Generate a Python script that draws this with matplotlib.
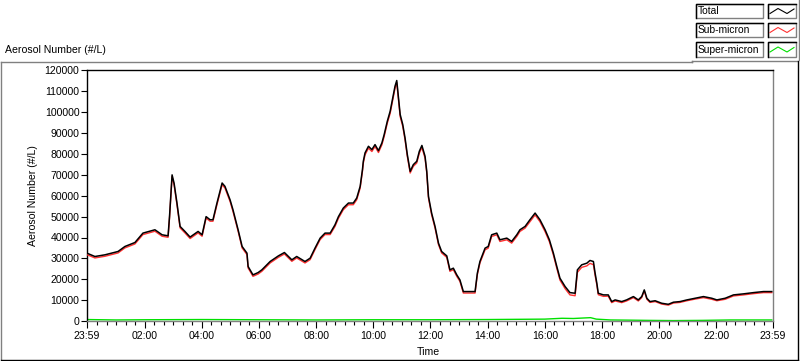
import matplotlib
matplotlib.use("Agg")
import matplotlib.pyplot as plt
from matplotlib.lines import Line2D
from matplotlib.patches import Rectangle

plt.rcParams['font.family'] = ['Liberation Sans', 'DejaVu Sans']
FS = 7.6

# ---- data (hours since midnight; 23:59 of previous day = -1/60) ----
hours = [-0.02, 0.26, 0.61, 1.07, 1.31, 1.66, 1.94, 2.36, 2.61, 2.82, 2.87, 2.96, 3.03, 3.13,
         3.24, 3.41, 3.59, 3.87, 4.01, 4.15, 4.29, 4.39, 4.53, 4.71, 4.81, 4.99, 5.09, 5.27,
         5.41, 5.58, 5.62, 5.79, 5.97, 6.10, 6.39, 6.68, 6.89, 7.15, 7.32, 7.61, 7.79, 7.96,
         8.14, 8.31, 8.49, 8.66, 8.78, 8.95, 9.13, 9.30, 9.42, 9.54, 9.62, 9.65, 9.71, 9.83,
         9.95, 10.06, 10.18, 10.30, 10.38, 10.49, 10.59, 10.68, 10.76, 10.82, 10.88, 10.94,
         11.03, 11.11, 11.19, 11.29, 11.40, 11.52, 11.61, 11.70, 11.81, 11.87, 11.93, 12.04,
         12.16, 12.28, 12.39, 12.57, 12.68, 12.80, 12.92, 13.03, 13.15, 13.38, 13.56, 13.64,
         13.73, 13.91, 14.02, 14.14, 14.32, 14.43, 14.67, 14.84, 15.02, 15.13, 15.31, 15.48,
         15.66, 15.83, 16.01, 16.16, 16.30, 16.42, 16.53, 16.71, 16.88, 17.06, 17.14, 17.29,
         17.47, 17.58, 17.70, 17.76, 17.82, 17.87, 18.05, 18.22, 18.34, 18.46, 18.69, 18.86,
         19.10, 19.27, 19.39, 19.48, 19.57, 19.68, 19.86, 20.09, 20.32, 20.50, 20.73, 20.97,
         21.26, 21.55, 21.84, 22.02, 22.31, 22.60, 22.95, 23.30, 23.65, 23.94]

total = [32500, 30900, 31700, 33300, 35700, 37600, 42100, 43700, 41300, 40800, 50000, 70000,
         66000, 56600, 45300, 42900, 40200, 42900, 41300, 50000, 48500, 48500, 56500, 66100,
         64500, 58000, 53300, 43700, 35700, 32500, 26100, 22100, 23200, 24500, 28500, 31200,
         32800, 29300, 30900, 28500, 30100, 34900, 39700, 42100, 42100, 46100, 50000, 54100,
         56500, 56500, 58900, 64500, 72500, 76500, 80500, 83700, 82100, 84500, 81600, 85300,
         89300, 95700, 100500, 106900, 112500, 115200, 106900, 98900, 94100, 87700, 79700,
         71700, 74900, 76500, 81300, 84100, 78900, 71700, 59700, 51700, 45300, 37300, 33300,
         31200, 24500, 25300, 22100, 19700, 14100, 14100, 14100, 22900, 28500, 34900, 35700,
         41300, 42100, 38900, 39700, 38100, 41300, 43700, 45300, 48500, 51700, 48500, 43700,
         38900, 32500, 26100, 20500, 16500, 13600, 13300, 24500, 26900, 27700, 29000, 28500,
         22900, 18100, 13300, 12500, 12500, 9300, 10100, 9300, 10100, 11700, 10100, 11700,
         14900, 10900, 9300, 9700, 8500, 8000, 9000, 9300, 10100, 10900, 11700, 10900, 10100,
         10900, 12500, 13000, 13600, 14100, 14100]

sub_micron = [31800, 30200, 31000, 32600, 35000, 36900, 41400, 43000, 40600, 40100, 49300, 69200,
              65200, 55800, 44600, 42200, 39500, 42200, 40600, 49300, 47800, 47800, 55700, 65300,
              63700, 57200, 52500, 43000, 35000, 31800, 25400, 21400, 22500, 23800, 27800, 30500,
              32100, 28600, 30200, 27800, 29400, 34200, 39000, 41400, 41400, 45300, 49200, 53300,
              55700, 55700, 58100, 63700, 71700, 75600, 79600, 82800, 81200, 83600, 80700, 84400,
              88400, 94800, 99500, 105900, 111500, 114200, 105900, 97900, 93200, 86800, 78800,
              70900, 74100, 75700, 80400, 83200, 78000, 70900, 58900, 50900, 44500, 36600, 32600,
              30500, 23800, 24600, 21400, 19000, 13400, 13400, 13400, 22200, 27800, 34100, 34900,
              40500, 41300, 38100, 38900, 37300, 40500, 42900, 44500, 47600, 50800, 47600, 42800,
              38000, 31600, 25200, 19600, 15500, 12500, 12100, 23300, 25700, 26400, 27600, 27000,
              21800, 17300, 12600, 11800, 11900, 8800, 9600, 8800, 9600, 11200, 9600, 11200,
              14400, 10400, 8900, 9300, 8100, 7600, 8600, 8900, 9700, 10500, 11200, 10400, 9700,
              10400, 12000, 12500, 13100, 13600, 13600]

super_hours = [-0.02, 1.0, 2.0, 4.0, 6.0, 8.0, 10.0, 12.0, 14.0, 16.0, 16.6, 17.0, 17.6,
               17.8, 18.3, 19.0, 19.6, 20.5, 21.5, 22.5, 23.94]
super_micron = [700, 500, 600, 700, 600, 500, 600, 600, 700, 900, 1300, 1200, 1600,
                900, 500, 400, 300, 200, 300, 500, 500]

x_tick_hours = [-1/60, 2, 4, 6, 8, 10, 12, 14, 16, 18, 20, 22, 24 - 1/60]
x_tick_labels = ["23:59", "02:00", "04:00", "06:00", "08:00", "10:00", "12:00",
                 "14:00", "16:00", "18:00", "20:00", "22:00", "23:59"]
y_ticks = list(range(0, 120001, 10000))

series_names = ["Total", "Sub-micron", "Super-micron"]
series_colors = ["#000000", "#ff3030", "#00e000"]

# ---- figure ----
W, H = 800, 361
fig = plt.figure(figsize=(W / 100, H / 100), dpi=100, facecolor="white")


def fx(px):
    return px / W


def fy(py):
    return 1 - py / H


GRAY = "#808080"

# outer frame
fig.add_artist(Line2D([fx(1), fx(692)], [fy(61.5), fy(61.5)], color=GRAY, lw=1.0))
fig.add_artist(Line2D([fx(692), fx(797)], [fy(60.5), fy(60.5)], color=GRAY, lw=1.0))
fig.add_artist(Line2D([fx(692), fx(692)], [fy(60.5), fy(61.5)], color=GRAY, lw=1.0))
fig.add_artist(Line2D([fx(1), fx(1)], [fy(61.5), fy(359)], color=GRAY, lw=1.0))
fig.add_artist(Line2D([fx(797.5), fx(797.5)], [fy(61), fy(359.5)], color="black", lw=1.0))
fig.add_artist(Line2D([fx(1), fx(798)], [fy(359.5), fy(359.5)], color="black", lw=1.0))
fig.add_artist(Line2D([fx(799), fx(799)], [fy(0), fy(60)], color=GRAY, lw=1.0))

fig.text(fx(5), fy(50), "Aerosol Number (#/L)", fontsize=FS, ha="left", va="center")

# legend
row_tops = [3.5, 22.5, 42.0]
for name, col, top in zip(series_names, series_colors, row_tops):
    h = 14.5
    # label box
    fig.add_artist(Rectangle((fx(695.5), fy(top + h)), fx(67), h / H, transform=fig.transFigure,
                             fill=True, facecolor="white", edgecolor=GRAY, lw=1.0))
    fig.add_artist(Line2D([fx(695.5), fx(695.5), fx(762.5)], [fy(top + h), fy(top), fy(top)],
                          color="black", lw=1.0))
    fig.text(fx(697.5), fy(top + h / 2 + 0.5), name, fontsize=7.4, ha="left", va="center")
    # sample box
    fig.add_artist(Rectangle((fx(767.5), fy(top + h)), fx(28), h / H, transform=fig.transFigure,
                             fill=True, facecolor="white", edgecolor=GRAY, lw=1.0))
    fig.add_artist(Line2D([fx(767.5), fx(767.5), fx(795.5)], [fy(top + h), fy(top), fy(top)],
                          color="black", lw=1.0))
    zx = [770, 778, 787, 794]
    zy = [top + 10, top + 5, top + 10, top + 5.5]
    fig.add_artist(Line2D([fx(v) for v in zx], [fy(v) for v in zy], color=col, lw=0.8))

# main axes
ax_l, ax_r, ax_t, ax_b = 87, 773, 70.5, 321
ax = fig.add_axes([fx(ax_l), fy(ax_b), fx(ax_r - ax_l), (ax_b - ax_t) / H])
ax.set_facecolor("white")

ax.plot(super_hours, super_micron, color=series_colors[2], lw=1.0, zorder=2)
ax.plot(hours, sub_micron, color=series_colors[1], lw=1.0, zorder=3)
ax.plot(hours, total, color=series_colors[0], lw=1.1, zorder=4)

ax.set_xlim(-1/60, 24 - 1/60)
ax.set_ylim(0, 120000)

ax.set_xticks(x_tick_hours)
ax.set_xticklabels(x_tick_labels, fontsize=FS)
minor = [h / 3 for h in range(1, 72) if h % 6 != 0]
ax.set_xticks(minor, minor=True)
ax.set_yticks(y_ticks)
ax.set_yticklabels([str(v) for v in y_ticks], fontsize=FS)

ax.tick_params(axis="x", which="major", direction="out", length=5, width=0.8, pad=2, colors="black")
ax.tick_params(axis="x", which="minor", direction="out", length=3, width=0.8, colors="black")
ax.tick_params(axis="y", which="major", direction="out", length=4, width=0.8, pad=1.5, colors="black")

for side in ["left", "top"]:
    ax.spines[side].set_color("black")
    ax.spines[side].set_linewidth(1.0)
for side in ["right", "bottom"]:
    ax.spines[side].set_color(GRAY)
    ax.spines[side].set_linewidth(1.0)

fig.text(fx(33), fy((ax_t + ax_b) / 2), "Aerosol Number (#/L)", fontsize=FS, rotation=90,
         ha="center", va="center")
fig.text(fx(428), fy(352), "Time", fontsize=FS, ha="center", va="center")

fig.savefig("out.png", dpi=100, facecolor="white")
